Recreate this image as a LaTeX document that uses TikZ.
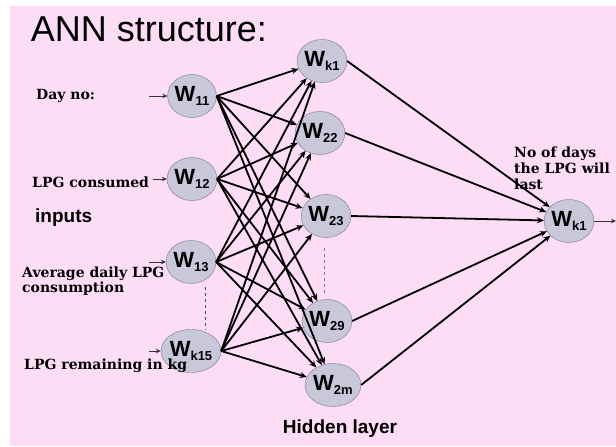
\documentclass[tikz,border=0pt]{standalone}
\usepackage{fontspec}
\setmainfont{DejaVu Serif}
\setsansfont{Liberation Sans}
\usetikzlibrary{arrows.meta,shapes.geometric}

\definecolor{slidepink}{RGB}{253,221,246}
\definecolor{unitfill}{RGB}{200,200,218}
\definecolor{unitline}{RGB}{120,120,130}

\newcommand{\wlab}[1]{{\sffamily\bfseries\fontsize{22}{22}\selectfont W\raisebox{-4.5pt}{\fontsize{13}{13}\selectfont #1}}}

\tikzset{
  unit/.style={ellipse,draw=unitline,fill=unitfill,minimum width=47pt,minimum height=43pt,inner sep=0pt},
  feat/.style={font=\bfseries\fontsize{14}{15}\selectfont,inner sep=0pt,align=left},
  wire/.style={-{Stealth[length=7pt,width=6pt]},line width=1.8pt},
  feed/.style={-{Stealth[length=5pt,width=4.5pt]},line width=0.9pt,black!80}
}

\begin{document}
\begin{tikzpicture}[x=1pt,y=-1pt]
  \useasboundingbox (0,0) rectangle (616,447);
  \fill[white] (0,0) rectangle (616,447);
  \fill[slidepink] (10,6) rectangle (616,446);

  \node[font=\sffamily\fontsize{36}{36}\selectfont,inner sep=0pt] (title) at (149,29) {ANN structure:};

  % input layer
  \node[unit] (w11) at (192,96) {\wlab{11}};
  \node[unit] (w12) at (192,179) {\wlab{12}};
  \node[unit] (w13) at (191,262) {\wlab{13}};
  \node[unit] (wk15) at (191,351) {\wlab{k15}};
  % hidden layer
  \node[unit] (hk1) at (322,61) {\wlab{k1}};
  \node[unit] (h22) at (320,133) {\wlab{22}};
  \node[unit] (h23) at (326,216) {\wlab{23}};
  \node[unit] (h29) at (327,321) {\wlab{29}};
  \node[unit] (h2m) at (333,385) {\wlab{2m}};
  % output
  \node[unit] (out) at (569,221) {\wlab{k1}};

  \node[feat,anchor=west] (dayno) at (36,96) {Day no:};
  \node[feat,anchor=west] (used) at (32,182) {LPG consumed};
  \node[font=\sffamily\bfseries\fontsize{19}{19}\selectfont,inner sep=0pt,anchor=west] (inputs) at (35,218) {inputs};
  \node[feat,anchor=west] (avg) at (22,281) {Average daily LPG\\consumption};
  \node[feat,anchor=west] (left) at (24,366) {LPG remaining in kg};
  \node[feat,anchor=west,font=\bfseries\fontsize{14}{16}\selectfont] (days) at (514,168) {No of days\\the LPG will\\last};
  \node[font=\sffamily\bfseries\fontsize{19}{19}\selectfont,inner sep=0pt] (hidden) at (340,429) {Hidden layer};

  \coordinate (f1) at (149,96); \coordinate (f2) at (153,179);
  \coordinate (f3) at (149,262); \coordinate (f4) at (149,351);
  \coordinate (res) at (616,221);
  \draw[feed] (f1) -- (w11); \draw[feed] (f2) -- (w12); \draw[feed] (f3) -- (w13); \draw[feed] (f4) -- (wk15);

  \draw[wire] (w11.east) -- (hk1); \draw[wire] (w11.east) -- (h22); \draw[wire] (w11.east) -- (h23); \draw[wire] (w11.east) -- (h29); \draw[wire] (w11.east) -- (h2m);
  \draw[wire] (w12.east) -- (hk1); \draw[wire] (w12.east) -- (h22); \draw[wire] (w12.east) -- (h23); \draw[wire] (w12.east) -- (h29); \draw[wire] (w12.east) -- (h2m);
  \draw[wire] (w13.east) -- (hk1); \draw[wire] (w13.east) -- (h22); \draw[wire] (w13.east) -- (h23); \draw[wire] (w13.east) -- (h29); \draw[wire] (w13.east) -- (h2m);
  \draw[wire] (wk15.east) -- (hk1); \draw[wire] (wk15.east) -- (h22); \draw[wire] (wk15.east) -- (h23); \draw[wire] (wk15.east) -- (h29); \draw[wire] (wk15.east) -- (h2m);

  \draw[wire] (hk1.east) -- (out); \draw[wire] (h22.east) -- (out); \draw[wire] (h23.east) -- (out);
  \draw[wire] (h29.east) -- (out); \draw[wire] (h2m.east) -- (out);
  \draw[feed] (out) -- (res);

  \draw[dashed,black!70,line width=0.7pt] (205,287) -- (205,330);
  \draw[dashed,black!50,line width=0.7pt] (324,248) -- (324,293);
\end{tikzpicture}
\end{document}
